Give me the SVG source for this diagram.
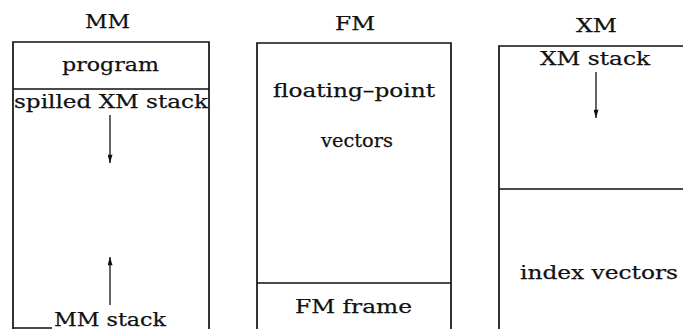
<svg xmlns="http://www.w3.org/2000/svg" width="683" height="329" viewBox="0 0 683 329">
  <style>
    .t { font-family: "DejaVu Serif", "Liberation Serif", serif; font-size: 19px; fill: #111; stroke: #111; stroke-width: 0.25; }
    .box { fill: none; stroke: #111; stroke-width: 1.7; }
    .arr { stroke: #111; stroke-width: 1.3; fill: none; }
  </style>
  <defs>
    <marker id="head" viewBox="0 0 10 6" refX="10" refY="3" markerWidth="10" markerHeight="5" markerUnits="userSpaceOnUse" orient="auto">
      <path d="M0,0 L10,3 L0,6 Z" fill="#111"/>
    </marker>
  </defs>
  <rect width="683" height="329" fill="#fff"/>

  <!-- main memory -->
  <g id="mm">
    <text class="t" x="85" y="28" textLength="45" lengthAdjust="spacingAndGlyphs">MM</text>
    <path class="box" d="M13,329 V42 H209 V329 M13,89 H209 M13,328 H52"/>
    <text class="t" x="62" y="71" textLength="97" lengthAdjust="spacingAndGlyphs">program</text>
    <text class="t" x="14" y="108" textLength="194" lengthAdjust="spacingAndGlyphs">spilled XM stack</text>
    <text class="t" x="54" y="326" textLength="112" lengthAdjust="spacingAndGlyphs">MM stack</text>
  </g>

  <!-- floating-point memory -->
  <g id="fm">
    <text class="t" x="335" y="30" textLength="40" lengthAdjust="spacingAndGlyphs">FM</text>
    <path class="box" d="M257,329 V43 H451 V329 M257,283 H451"/>
    <text class="t" x="273" y="97" textLength="162" lengthAdjust="spacingAndGlyphs">floating–point</text>
    <text class="t" x="321" y="147" textLength="72" lengthAdjust="spacingAndGlyphs">vectors</text>
    <text class="t" x="295" y="313" textLength="117" lengthAdjust="spacingAndGlyphs">FM frame</text>
  </g>

  <!-- index memory -->
  <g id="xm">
    <text class="t" x="576" y="32" textLength="41" lengthAdjust="spacingAndGlyphs">XM</text>
    <path class="box" d="M499,329 V46 H683 M499,189 H683"/>
    <text class="t" x="540" y="65" textLength="110" lengthAdjust="spacingAndGlyphs">XM stack</text>
    <text class="t" x="520" y="279" textLength="158" lengthAdjust="spacingAndGlyphs">index vectors</text>
  </g>

  <!-- stack growth directions -->
  <g id="connectors">
    <line class="arr" x1="110" y1="115" x2="110" y2="163" marker-end="url(#head)"/>
    <line class="arr" x1="110" y1="305" x2="110" y2="257" marker-end="url(#head)"/>
    <line class="arr" x1="596" y1="72" x2="596" y2="118" marker-end="url(#head)"/>
  </g>
</svg>
